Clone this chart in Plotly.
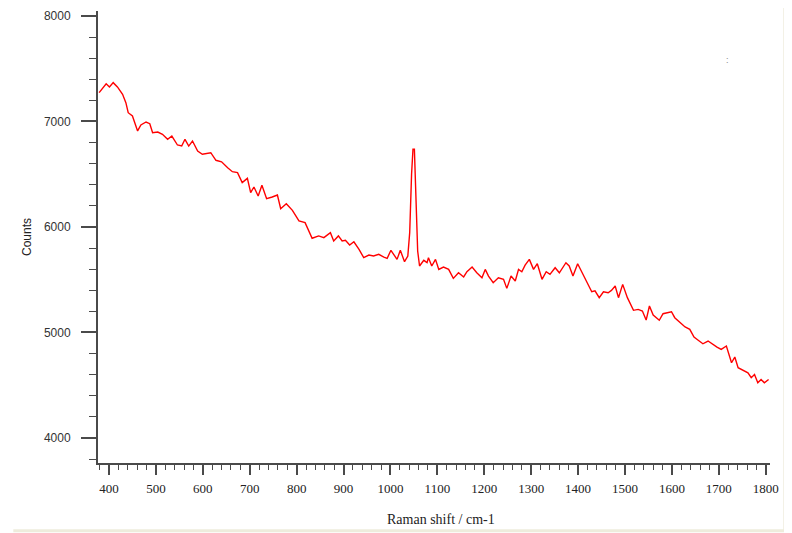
import plotly.graph_objects as go

raman_shift = [
    379, 394, 401, 409, 418, 429, 436, 441, 450, 456, 461, 468, 479, 487, 493,
    504, 514, 525, 534, 546, 555, 562, 570, 578, 589, 599, 617, 628, 640, 653,
    663, 674, 684, 695, 702, 709, 718, 726, 736, 748, 759, 766, 778, 791, 805,
    818, 833, 847, 858, 872, 879, 889, 897, 904, 913, 922, 933, 943, 954, 964,
    975, 986, 993, 1001, 1009, 1014, 1021, 1030, 1037, 1041, 1045, 1048, 1051,
    1053, 1055, 1058, 1062, 1071, 1078, 1081, 1088, 1096, 1103, 1113, 1124,
    1134, 1145, 1156, 1163, 1174, 1184, 1195, 1202, 1209, 1219, 1230, 1241,
    1248, 1257, 1266, 1273, 1280, 1287, 1296, 1305, 1313, 1323, 1332, 1340,
    1351, 1360, 1374, 1381, 1389, 1399, 1411, 1422, 1429, 1436, 1445, 1454,
    1464, 1471, 1479, 1486, 1495, 1505, 1518, 1528, 1537, 1545, 1552, 1560,
    1573, 1581, 1592, 1599, 1606, 1617, 1628, 1638, 1647, 1656, 1666, 1677,
    1686, 1696, 1705, 1716, 1727, 1734, 1741, 1752, 1762, 1769, 1776, 1783,
    1790, 1797, 1806,
]
counts = [
    7273, 7358, 7327, 7368, 7327, 7258, 7178, 7083, 7052, 6973, 6910, 6967, 6995, 6979, 6894,
    6900, 6878, 6831, 6862, 6777, 6767, 6831, 6767, 6815, 6720, 6689, 6704, 6632, 6618, 6562,
    6524, 6515, 6420, 6461, 6325, 6379, 6294, 6395, 6268, 6284, 6303, 6173, 6221, 6158, 6057,
    6041, 5893, 5915, 5899, 5946, 5867, 5915, 5867, 5873, 5829, 5860, 5788, 5709, 5734, 5725,
    5741, 5715, 5703, 5779, 5725, 5693, 5779, 5671, 5725, 5946, 6499, 6736, 6736,
    6499, 6183, 5772, 5630, 5684, 5662, 5709, 5630, 5693, 5598, 5620, 5598,
    5513, 5566, 5526, 5576, 5620, 5566, 5519, 5598, 5535, 5472, 5519, 5504,
    5418, 5535, 5488, 5598, 5576, 5639, 5693, 5598, 5652, 5504, 5576, 5551,
    5614, 5566, 5661, 5630, 5535, 5652, 5551, 5456, 5386, 5395, 5330, 5386,
    5377, 5399, 5440, 5330, 5456, 5330, 5210, 5219, 5203, 5118, 5251, 5166,
    5116, 5178, 5188, 5197, 5140, 5093, 5052, 5030, 4957, 4926, 4893, 4919,
    4888, 4862, 4840, 4872, 4713, 4767, 4666, 4639, 4617, 4571, 4602, 4523,
    4555, 4523, 4555,
]

x_ticks = [400, 500, 600, 700, 800, 900, 1000, 1100, 1200, 1300, 1400, 1500, 1600, 1700, 1800]
y_ticks = [4000, 5000, 6000, 7000, 8000]

fig = go.Figure()
fig.add_trace(go.Scatter(
    x=raman_shift, y=counts, mode="lines",
    line=dict(color="#ff0000", width=1.4),
    showlegend=False, hoverinfo="skip",
))

axis_color = "#4a4a4a"
fig.update_layout(
    width=784, height=525,
    margin=dict(l=90, r=22, t=3, b=70, autoexpand=False),
    paper_bgcolor="white", plot_bgcolor="white",
    xaxis=dict(
        range=[376.6, 1809], showgrid=False, zeroline=False, automargin=False,
        showline=True, linecolor=axis_color, linewidth=2,
        ticks="outside", ticklen=10, tickwidth=1.5, tickcolor=axis_color,
        tickvals=x_ticks, ticktext=[str(v) for v in x_ticks],
        tickfont=dict(family="Liberation Serif", size=13, color="#222"),
        minor=dict(dtick=20, tick0=0, ticks="outside", ticklen=5,
                   tickwidth=1.3, tickcolor=axis_color),
        ticklabelstandoff=2,
    ),
    yaxis=dict(
        range=[3763, 8047], showgrid=False, zeroline=False, automargin=False,
        showline=True, linecolor=axis_color, linewidth=2,
        ticks="outside", ticklen=15, tickwidth=1.5, tickcolor=axis_color,
        tickvals=y_ticks, ticktext=[str(v) for v in y_ticks],
        tickfont=dict(family="Liberation Sans", size=12, color="#333"),
        minor=dict(dtick=200, tick0=0, ticks="outside", ticklen=7,
                   tickwidth=1.3, tickcolor=axis_color),
        ticklabelstandoff=8,
    ),
    annotations=[
        dict(text="Counts", xref="paper", yref="paper",
             x=(26 - 97) / 672, y=0.5, textangle=-90, showarrow=False,
             xanchor="center", yanchor="middle",
             font=dict(family="Liberation Sans", size=12, color="#222")),
        dict(text="Raman shift / cm-1", xref="paper", yref="paper",
             x=(440 - 97) / 672, y=(462 - 518) / 452, showarrow=False,
             xanchor="center", yanchor="middle",
             font=dict(family="Liberation Serif", size=14, color="#222")),
        dict(text=":", xref="x", yref="y", x=1719, y=7583, showarrow=False,
             xanchor="center", yanchor="middle",
             font=dict(family="Liberation Sans", size=9, color="#888")),
    ],
    shapes=[
        dict(type="line", xref="paper", yref="paper",
             x0=1.022, x1=1.022, y0=-0.15, y1=1.02,
             line=dict(color="#eeecdc", width=3)),
        dict(type="line", xref="paper", yref="paper",
             x0=-0.126, x1=1.022, y0=-0.15, y1=-0.15,
             line=dict(color="#eeecdc", width=3)),
    ],
)

fig.write_html("out.html")
